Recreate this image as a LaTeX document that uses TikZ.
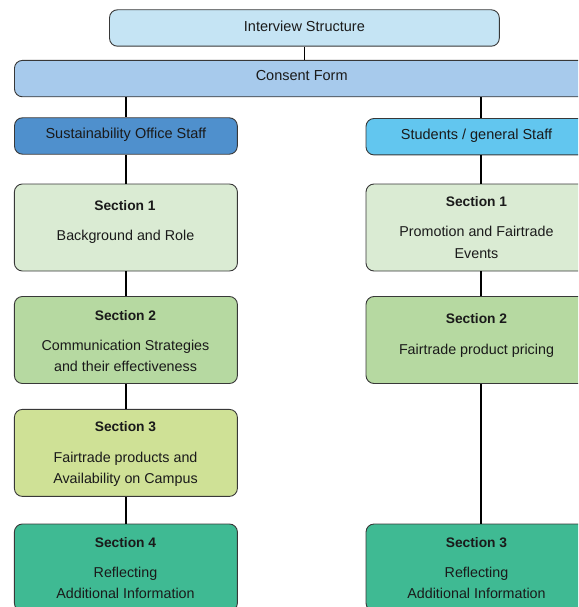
\documentclass[tikz,border=0pt]{standalone}
\usepackage{fontspec}
\setmainfont{Liberation Sans}
\definecolor{cint}{HTML}{C5E4F4}
\definecolor{ccon}{HTML}{A7CAEC}
\definecolor{csos}{HTML}{4F90CD}
\definecolor{cstu}{HTML}{62C6EF}
\definecolor{gone}{HTML}{DAEBD3}
\definecolor{gtwo}{HTML}{B6D9A1}
\definecolor{gthree}{HTML}{CFE196}
\definecolor{gfour}{HTML}{3FBA93}
\definecolor{tcol}{HTML}{1A1A1A}
\definecolor{bcol}{HTML}{383838}
\tikzset{
  boxnode/.style={draw=bcol, line width=0.9pt, rounded corners=8pt, inner sep=0pt, minimum height=87pt},
  hdr/.style={boxnode, minimum height=36.4pt},
  htxt/.style={anchor=base, inner sep=0pt, text=tcol, font=\fontsize{14.5}{17}\selectfont},
  ttxt/.style={anchor=base, inner sep=0pt, text=tcol, font=\fontsize{13.8}{16}\selectfont\bfseries},
  btxt/.style={anchor=base, inner sep=0pt, text=tcol, font=\fontsize{14.3}{17}\selectfont},
  conn/.style={draw=black, line width=1.3pt},
  lcol/.style={boxnode, minimum width=223pt},
  rcol/.style={boxnode, minimum width=221pt}
}
\begin{document}
\begin{tikzpicture}[x=1pt,y=-1pt]
\useasboundingbox (0,0) rectangle (578,607);
\clip (0,0) rectangle (578,607);
% header boxes
\node[hdr, fill=cint, minimum width=389.8pt] (is) at (304.4,28) {};
\node[hdr, fill=ccon, minimum width=574.5pt] (cf) at (301.7,78.6) {};
\node[hdr, fill=csos, minimum width=222.8pt] (sos) at (125.9,136) {};
\node[hdr, fill=cstu, minimum width=221pt] (stu) at (476.5,136.7) {};
\coordinate (rx) at (481,0);
% left column
\node[lcol, fill=gone] (l1) at (125.9,227.5) {};
\node[lcol, fill=gtwo] (l2) at (125.9,340) {};
\node[lcol, fill=gthree] (l3) at (125.9,452.9) {};
\node[lcol, fill=gfour] (l4) at (125.9,567.5) {};
% right column
\node[rcol, fill=gone] (r1) at (476.5,227.5) {};
\node[rcol, fill=gtwo] (r2) at (476.5,340) {};
\node[rcol, fill=gfour] (r3) at (476.5,567.5) {};
% connectors
\draw[conn] (is.south) -- (is.south |- cf.north);
\draw[conn] (cf.south -| sos.north) -- (sos.north);
\draw[conn] (cf.south -| rx) -- (stu.north -| rx);
\draw[conn] (sos.south) -- (l1.north);
\draw[conn] (l1.south) -- (l2.north);
\draw[conn] (l2.south) -- (l3.north);
\draw[conn] (l3.south) -- (l4.north);
\draw[conn] (stu.south -| rx) -- (r1.north -| rx);
\draw[conn] (r1.south -| rx) -- (r2.north -| rx);
\draw[conn] (r2.south -| rx) -- (r3.north -| rx);
% header texts
\node[htxt] (ist) at (304.4,31.5) {Interview Structure};
\node[htxt] (cft) at (301.7,80.8) {Consent Form};
\node[htxt] (sost) at (125.9,138.3) {Sustainability Office Staff};
\node[htxt] (stut) at (476.5,139.8) {Students / general Staff};
% left texts
\node[ttxt] (l1a) at (125,210) {Section 1};
\node[btxt] (l1b) at (125.5,240.7) {Background and Role};
\node[ttxt] (l2a) at (125.5,320) {Section 2};
\node[btxt] (l2b) at (125.5,350.2) {Communication Strategies};
\node[btxt] (l2c) at (125.5,371.5) {and their effectiveness};
\node[ttxt] (l3a) at (125.5,431.5) {Section 3};
\node[btxt] (l3b) at (125.5,462.7) {Fairtrade products and};
\node[btxt] (l3c) at (125.5,483.9) {Availability on Campus};
\node[ttxt] (l4a) at (125.5,547) {Section 4};
\node[btxt] (l4b) at (125.5,577.7) {Reflecting};
\node[btxt] (l4c) at (125.5,598.9) {Additional Information};
% right texts
\node[ttxt] (r1a) at (476.5,206) {Section 1};
\node[btxt] (r1b) at (476.5,236.7) {Promotion and Fairtrade};
\node[btxt] (r1c) at (476.5,258.2) {Events};
\node[ttxt] (r2a) at (476.5,323) {Section 2};
\node[btxt] (r2b) at (476.5,354.2) {Fairtrade product pricing};
\node[ttxt] (r3a) at (476.5,547) {Section 3};
\node[btxt] (r3b) at (476.5,577.7) {Reflecting};
\node[btxt] (r3c) at (476.5,598.9) {Additional Information};
\end{tikzpicture}
\end{document}
